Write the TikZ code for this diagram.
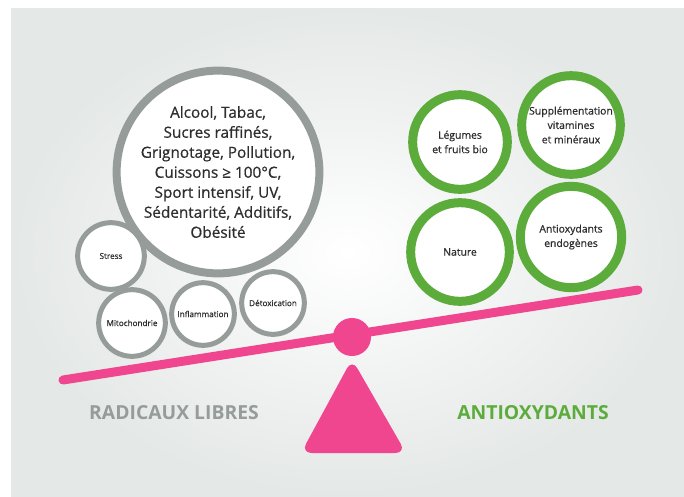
\documentclass[tikz,border=0pt]{standalone}
\usepackage{fontspec}
\setmainfont{Open Sans}
\newfontfamily\semifont{Open Sans}[FakeBold=0.6]
\usepackage{xcolor}
\usepackage{tikz}
\definecolor{rgray}{HTML}{969C99}
\definecolor{agreen}{HTML}{5CAC3C}
\definecolor{bpink}{HTML}{F0468F}
\definecolor{txt}{HTML}{2E2E2E}
\definecolor{panel}{HTML}{E4E8E6}
\tikzset{bigball/.style={draw=rgray,line width=6pt,circle,fill=white,minimum size=151.5pt,align=center,text=txt,font=\semifont\fontsize{11.5}{15}\selectfont,inner sep=0pt} }
\tikzset{smallball/.style={draw=rgray,line width=3.75pt,circle,fill=white,minimum size=#1,align=center,text=txt,font=\semifont\fontsize{6.1}{7}\selectfont,inner sep=0pt} }
\tikzset{greenball/.style={draw=agreen,line width=6.75pt,circle,fill=white,minimum size=#1,align=center,text=txt,font=\semifont\fontsize{7.8}{10.8}\selectfont,inner sep=0pt} }
\tikzset{sidelabel/.style={font=\fontsize{14.5}{16}\selectfont\bfseries} }

\begin{document}
\begin{tikzpicture}[x=0.75pt,y=-0.75pt]
    \useasboundingbox (0,0) rectangle (684,496);
    \fill[white] (0,0) rectangle (684,496);
    \shade[inner color=white,outer color=panel] (11,8) rectangle (684,496);
    % left pan
    \node[bigball] (causes) at (218,172) {Alcool, Tabac,\\Sucres raffinés,\\Grignotage, Pollution,\\Cuissons ≥ 100°C,\\Sport intensif, UV,\\Sédentarité, Additifs,\\Obésité};
    \node[smallball=50pt] (stress) at (111,256) {Stress};
    \node[smallball=50pt] (mito) at (132,323) {Mitochondrie};
    \node[smallball=47pt] (inflam) at (203,314) {Inflammation};
    \node[smallball=47pt] (detox) at (273,303) {Détoxication};
    % right pan
    \node[greenball=71pt] (legumes) at (460,142) {Légumes\\et fruits bio};
    \node[greenball=74pt] (suppl) at (571,125) {Supplémentation\\vitamines\\et minéraux};
    \node[greenball=74pt] (nature) at (460,252) {Nature};
    \node[greenball=76pt] (endo) at (571,237) {Antioxydants\\endogènes};
    % balance
    \coordinate (beamL) at (63,380);
    \coordinate (beamR) at (638,290);
    \draw[bpink,line width=6.75pt,line cap=round] (beamL) -- (beamR);
    \node[circle,fill=bpink,minimum size=28.5pt,inner sep=0pt] (pivot) at (352,337) {};
    \fill[bpink,rounded corners=8pt] (352,359) -- (406,453) -- (301,453) -- cycle;
    \node[sidelabel,text=rgray] (radicaux) at (174,413) {RADICAUX LIBRES};
    \node[sidelabel,text=agreen] (antiox) at (533,413) {ANTIOXYDANTS};
\end{tikzpicture}
\end{document}
